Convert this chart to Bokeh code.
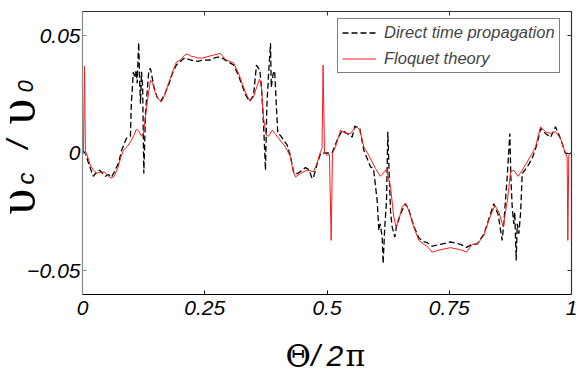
from bokeh.plotting import figure
from bokeh.models import FixedTicker, LinearAxis, Label, Range1d
from bokeh.embed import file_html
from bokeh.resources import INLINE
import math

# Theta / 2pi  (x) and v_c / v_0 (y)
floquet_x = [0.000, 0.002, 0.004, 0.006, 0.008, 0.016, 0.022, 0.029, 0.037, 0.045, 0.053, 0.059, 0.065,
             0.072, 0.078, 0.084, 0.092, 0.100, 0.106, 0.110, 0.115, 0.121, 0.125, 0.129, 0.133, 0.139,
             0.143, 0.149, 0.155, 0.162, 0.168, 0.176, 0.184, 0.192, 0.200, 0.209, 0.215, 0.221, 0.229,
             0.237, 0.245, 0.268, 0.282, 0.292, 0.301, 0.309, 0.319, 0.333, 0.3415, 0.3497, 0.356, 0.362,
             0.366, 0.370, 0.3756, 0.3804, 0.388, 0.395, 0.4008, 0.4151, 0.4254, 0.430, 0.4356, 0.4458,
             0.4595, 0.4663, 0.4724, 0.480, 0.4867, 0.4898, 0.492, 0.4949, 0.501, 0.505, 0.5085, 0.5112,
             0.5174, 0.5276, 0.5378, 0.548, 0.5603, 0.567, 0.5753, 0.5855, 0.5992, 0.6094, 0.6217, 0.6299,
             0.6366, 0.6415, 0.6469, 0.6537, 0.6605, 0.6673, 0.6775, 0.6878, 0.698, 0.705, 0.7151, 0.7321,
             0.7526, 0.773, 0.7853, 0.7969, 0.8071, 0.8207, 0.8309, 0.8432, 0.8514, 0.8603, 0.8698, 0.8753,
             0.882, 0.891, 0.8992, 0.9094, 0.9196, 0.9264, 0.9366, 0.9468, 0.9571, 0.9673, 0.9775, 0.9864,
             0.9911, 0.9925, 0.9945, 1.000]
floquet_y = [0.001, 0.001, 0.037, 0.001, 0.000, -0.005, -0.007, -0.0085, -0.008, -0.008, -0.0098, -0.0106, -0.0098,
             -0.0064, -0.002, 0.0013, 0.003, 0.0055, 0.008, 0.0102, 0.0094, 0.0072, 0.0089, 0.016, 0.0226, 0.031,
             0.030, 0.0255, 0.023, 0.022, 0.0247, 0.0298, 0.0345, 0.0387, 0.0396, 0.0417, 0.0421, 0.0413, 0.0409,
             0.0404, 0.0404, 0.0417, 0.0424, 0.0399, 0.039, 0.0383, 0.034, 0.026, 0.0223, 0.0238, 0.028, 0.0315,
             0.028, 0.0153, 0.0077, 0.0072, 0.0098, 0.008, 0.0064, 0.0027, -0.0016, -0.007, -0.0101, -0.0085,
             -0.0072, -0.0075, -0.0079, -0.004, 0.0006, 0.002, 0.0374, 0.000, -0.001, -0.0005, -0.037, 0.000,
             0.0027, 0.0098, 0.0084, 0.0084, 0.0115, 0.0098, 0.0027, -0.0009, -0.0065, -0.0098, -0.0069, -0.0143,
             -0.0271, -0.0314, -0.0285, -0.0226, -0.0214, -0.0243, -0.0314, -0.037, -0.0387, -0.0396, -0.042, -0.041,
             -0.0401, -0.041, -0.042, -0.0387, -0.0387, -0.0349, -0.0285, -0.0221, -0.025, -0.0313, -0.0186, -0.008,
             -0.0072, -0.0098, -0.0072, -0.0037, -0.0001, 0.0027, 0.0112, 0.0091, 0.0084, 0.0091, 0.0063, 0.0006,
             -0.0016, -0.037, -0.001, 0.0006]

direct_x = [0.000, 0.006, 0.012, 0.022, 0.029, 0.035, 0.041, 0.047, 0.053, 0.059, 0.065, 0.074, 0.080, 0.090,
            0.098, 0.100, 0.104, 0.107, 0.110, 0.1118, 0.1135, 0.115, 0.117, 0.1186, 0.1207, 0.123, 0.1254,
            0.1288, 0.1357, 0.139, 0.146, 0.152, 0.160, 0.168, 0.176, 0.184, 0.192, 0.200, 0.209, 0.221, 0.235,
            0.245, 0.262, 0.270, 0.282, 0.292, 0.309, 0.319, 0.333, 0.3415, 0.3497, 0.3558, 0.3626, 0.366,
            0.3708, 0.3742, 0.377, 0.381, 0.3845, 0.386, 0.390, 0.393, 0.396, 0.3994, 0.405, 0.4186, 0.425,
            0.4322, 0.440, 0.456, 0.463, 0.4697, 0.473, 0.480, 0.487, 0.5004, 0.510, 0.5208, 0.531, 0.540,
            0.5515, 0.557, 0.567, 0.5753, 0.589, 0.595, 0.6026, 0.606, 0.609, 0.6128, 0.6148, 0.618, 0.6217,
            0.6244, 0.627, 0.630, 0.6333, 0.6387, 0.642, 0.6503, 0.6605, 0.6673, 0.6775, 0.6878, 0.698, 0.705,
            0.7151, 0.7321, 0.7526, 0.773, 0.7853, 0.7969, 0.8071, 0.8207, 0.8309, 0.8411, 0.850, 0.8582,
            0.8615, 0.8685, 0.8739, 0.876, 0.8787, 0.882, 0.884, 0.8869, 0.889, 0.8923, 0.896, 0.8992, 0.9094,
            0.9196, 0.9298, 0.937, 0.9468, 0.957, 0.9673, 0.977, 0.9877, 1.000]
direct_y = [0.001, 0.000, -0.004, -0.0098, -0.008, -0.0072, -0.0085, -0.0098, -0.009, -0.0102, -0.008, -0.004,
            0.0013, 0.0064, 0.0072, 0.0217, 0.0345, 0.032, 0.0353, 0.0297, 0.040, 0.047, 0.030, 0.021, 0.0346,
            0.028, -0.0086, 0.0169, 0.0353, 0.036, 0.0282, 0.024, 0.0221, 0.025, 0.029, 0.034, 0.0375, 0.039,
            0.0405, 0.0396, 0.039, 0.0395, 0.0396, 0.0405, 0.041, 0.0395, 0.0375, 0.033, 0.025, 0.022, 0.0245,
            0.0374, 0.0353, 0.028, 0.0098, -0.0072, 0.020, 0.0353, 0.0467, 0.028, 0.0339, 0.035, 0.022, 0.0084,
            0.0075, 0.0034, -0.001, -0.0086, -0.0086, -0.0061, -0.007, -0.0108, -0.0098, -0.0044, 0.000, 0.0001,
            0.000, 0.0055, 0.0098, 0.0085, 0.0069, 0.0115, 0.0105, 0.0013, -0.0058, -0.0065, -0.020, -0.0328,
            -0.030, -0.0356, -0.0469, -0.032, -0.020, 0.0091, -0.008, -0.025, -0.0314, -0.0356, -0.031, -0.0257,
            -0.0214, -0.024, -0.031, -0.036, -0.0375, -0.038, -0.0395, -0.0387, -0.0377, -0.0387, -0.040, -0.0387,
            -0.0385, -0.0345, -0.028, -0.0214, -0.026, -0.037, -0.030, -0.0101, 0.0084, -0.010, -0.0228, -0.030,
            -0.025, -0.0455, -0.030, -0.0342, -0.025, -0.0086, -0.0058, -0.0023, 0.0041, 0.0105, 0.0084, 0.0067,
            0.0112, 0.0065, -0.0001, 0.000]

x_ticks = [0, 0.25, 0.5, 0.75, 1]
x_tick_labels = ["0", "0.25", "0.5", "0.75", "1"]
y_ticks = [-0.05, 0, 0.05]
y_tick_labels = ["\u22120.05", "0", "0.05"]
x_lo, x_hi = 0.0, 1.0
y_lo, y_hi = -0.06, 0.0602

# canvas geometry (pixels): plot box from (82, 11) to (571, 294)
W, H = 579, 375
L, R, T, B = 82, 571, 11, 294
xs = (x_hi - x_lo) / (R - L)
ys = (y_hi - y_lo) / (B - T)
xr = Range1d(x_lo - L * xs, x_hi + (W - R) * xs)
yr = Range1d(y_lo - (H - B) * ys, y_hi + T * ys)

p = figure(width=W, height=H, x_range=xr, y_range=yr,
           output_backend="svg", toolbar_location=None,
           min_border_left=0, min_border_right=0, min_border_top=0, min_border_bottom=0,
           x_axis_type=None, y_axis_type=None)
p.background_fill_color = "white"
p.border_fill_color = "white"
p.grid.visible = False
p.outline_line_color = None

p.line(direct_x, direct_y, line_color="black", line_width=1.3, line_dash="6 3",
       legend_label="Direct time propagation")
p.line(floquet_x, floquet_y, line_color="#ff1a1a", line_width=1.0,
       legend_label="Floquet theory")

tick_font = "Liberation Sans"

def make_axis(place, loc, bounds, ticks, labels, show_labels, line_color):
    ax = LinearAxis(fixed_location=loc, bounds=bounds)
    ax.ticker = FixedTicker(ticks=ticks)
    if show_labels:
        ax.major_label_overrides = {t: l for t, l in zip(ticks, labels)}
        ax.major_label_text_font_size = "21px"
    else:
        ax.major_label_overrides = {t: "" for t in ticks}
        ax.major_label_text_font_size = "1px"
        ax.major_label_standoff = 0
    ax.major_tick_in = 4
    ax.major_tick_out = 0
    ax.minor_tick_line_color = None
    ax.axis_line_color = line_color
    ax.major_tick_line_color = line_color
    ax.axis_line_width = 1.2
    ax.major_label_text_font = tick_font
    ax.major_label_text_font_style = "italic"
    ax.major_label_text_color = "black"
    p.add_layout(ax, place)
    return ax

bx = make_axis("below", y_lo, (x_lo, x_hi), x_ticks, x_tick_labels, True, "black")
bx.major_label_standoff = 6
ly = make_axis("left", x_lo, (y_lo, y_hi), y_ticks, y_tick_labels, True, "#8a8a8a")
ly.major_label_standoff = 2
make_axis("above", y_hi, (x_lo, x_hi), x_ticks, x_tick_labels, False, "#333333")
make_axis("right", x_hi, (y_lo, y_hi), y_ticks, y_tick_labels, False, "#333333")

# legend
lg = p.legend[0]
lg.location = (337, H - 73)
lg.margin = 0
lg.padding = 4
lg.spacing = 7
lg.glyph_width = 34
lg.glyph_height = 17
lg.label_height = 17
lg.label_standoff = 8
lg.border_line_color = "black"
lg.border_line_width = 1
lg.label_text_font = tick_font
lg.label_text_font_style = "italic"
lg.label_text_font_size = "16.5px"
lg.background_fill_alpha = 1.0

# axis titles built from pieces
def piece(text, x, y, font, size, style="normal", angle=0.0):
    lab = Label(x=x, y=y, x_units="canvas", y_units="canvas", text=text,
                text_font=font, text_font_size=size, text_font_style=style,
                text_color="black", text_align="left", text_baseline="alphabetic",
                angle=angle)
    p.add_layout(lab)

# x title: Theta / 2 pi
piece("\u0398", 285, 355, "DejaVu Serif", "31px")
piece("/", 311, 355, tick_font, "30px", "italic")
piece("2", 326, 355, tick_font, "30px", "italic")
piece("\u03c0", 345, 355, "DejaVu Serif", "30px")

# y title: upsilon_c / upsilon_0 (rotated)
a = math.pi / 2
piece("\u03c5", 16, 214, "Liberation Serif", "52px", angle=a)
piece("c", 25, 184, tick_font, "24px", "italic", angle=a)
piece("/", 17, 148, tick_font, "30px", "italic", angle=a)
piece("\u03c5", 16, 124, "Liberation Serif", "52px", angle=a)
piece("0", 25, 92, tick_font, "22px", "italic", angle=a)

open("out.html", "w").write(file_html(p, INLINE))
